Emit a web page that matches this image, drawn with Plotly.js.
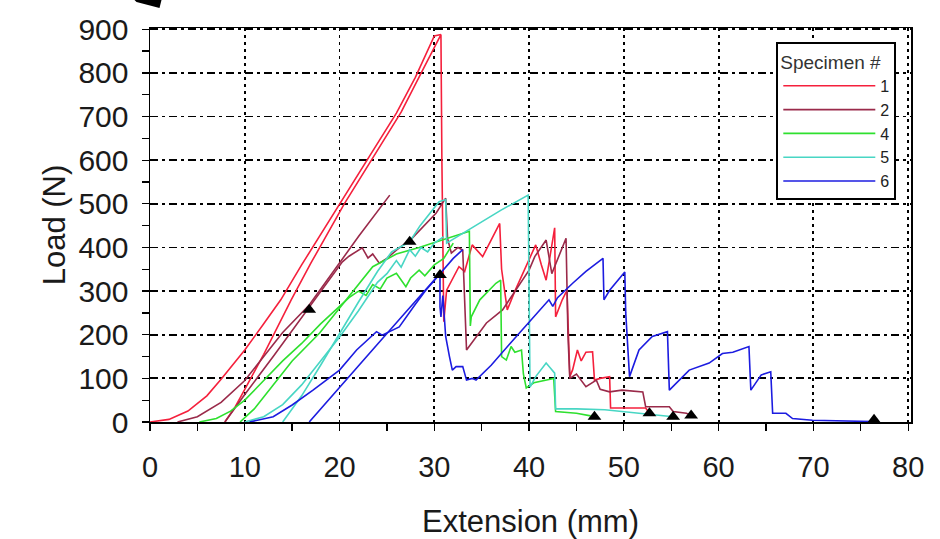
<!DOCTYPE html>
<html>
<head>
<meta charset="utf-8">
<script src="https://cdn.plot.ly/plotly-3.0.1.min.js"></script>
<style>
  html, body { margin: 0; padding: 0; background: #ffffff; }
  #chart { width: 940px; height: 539px; }
</style>
</head>
<body>
<div id="chart"></div>
<script>
// ---- Data (Extension in mm, Load in N) ----
// Each specimen: toe curve, then (after null) the main curve with post-peak behaviour.
const spec1X = [0, 2, 4, 6, 7.5, 10, 12, 13.8, 16, 18, 20, 22, 24, 26, 28, 30.0, 30.7, null,
  7.9, 9, 10, 12, 14.9, 17, 20.5, 22.5, 24.5, 26.5, 28.5, 30.7, 30.8, 30.9, 31.0, 31.3, 32, 32.6, 33.2, 34, 35.1, 36.9,
  37.1, 37.7, 38.5, 39.5, 40.7, 41.3, 41.8, 42.7, 42.8, 43.5, 44, 44.3, 44.6, 45.1, 45.5, 46, 46.7, 46.9,
  47.5, 48.5, 48.6, 50, 52.3, 52.7];
const spec1Y = [0, 6, 25, 60, 98, 165, 225, 280, 360, 430, 500, 568, 638, 708, 790, 885, 888, null,
  0, 35, 75, 155, 280, 365, 500, 570, 640, 710, 795, 888, 600, 400, 230, 302, 330, 356, 345, 406, 379, 455,
  350, 257, 300, 350, 406, 360, 325, 445, 241, 280, 302, 104, 120, 165, 140, 160, 161, 96,
  100, 104, 32, 32, 32, 20];

const spec2X = [2.9, 5, 7.5, 10, 12, 14, 16.8, 20, 22, 25.3, null,
  7.9, 10, 13, 16.8, 20.3, 21, 21.8, 22.4, 23, 23.5, 24.2, 25, 26, 27.7, 30.2, 31.2, 31.4, 31.8, 32.5, 33, 33.4,
  35.5, 37.2, 40, 40.6, 41.8, 42.4, 43.9, 44.1, 44.3, 45, 46, 47.1, 47.5, 48.5, 49.8, 52, 52.3, 54.8, 55.2, 56.6, 57.1];
const spec2Y = [0, 12, 45, 95, 150, 205, 268, 365, 425, 520, null,
  0, 63, 150, 262, 367, 380, 390, 399, 376, 385, 364, 375, 394, 422, 479, 513, 420, 387, 400, 394, 165,
  227, 257, 348, 379, 417, 340, 421, 200, 100, 110, 81, 96, 75, 69, 73, 69, 35, 35, 24, 20, 15];

const spec4X = [5.2, 7, 8.5, 10, 12, 14, 16, 18, 20, 21, 22, 22.8, 23.5, 24.3, 25, 26, 27, 27.5, 28.4, 29, 30, 31, 32, null,
  9.5, 11, 13, 15, 17.9, 20, 23.5, 26, 28.4, 30.5, 32, 33.7, 33.8, 33.9, 34.8, 36.5, 37, 37.1, 37.6, 38.1, 38.5, 39.2,
  39.4, 39.7, 40.5, 41.5, 42.6, 42.8, 45, 46.5];
const spec4Y = [0, 8, 25, 50, 95, 140, 180, 225, 265, 285, 300, 290, 315, 305, 330, 341, 310, 330, 348, 335, 360, 375, 410, null,
  0, 30, 85, 140, 204, 262, 356, 385, 400, 415, 425, 437, 220, 241, 280, 318, 325, 150, 142, 173, 160, 165,
  110, 78, 90, 95, 100, 24, 20, 14];

const spec5X = [10, 12, 14, 16, 18, 20, 22, 24, 25, 26, 26.5, 27.4, 28, 28.6, 29.3, 30, 31, null,
  14, 16, 18, 20, 22, 24, 25.5, 27.4, 28.5, 30.5, 31.2, 31.3, 33, 35, 37, 39.9, 40.1, 40.7, 41.8, 42.2, 42.7,
  42.8, 45, 48, 52, 55.2];
const spec5Y = [0, 12, 40, 85, 140, 195, 255, 320, 340, 370, 355, 395, 380, 400, 390, 410, 425, null,
  0, 60, 130, 204, 275, 345, 390, 413, 450, 505, 510, 410, 432, 458, 485, 520, 80, 104, 135, 125, 112,
  30, 30, 28, 20, 12];

const spec6X = [10.5, 13, 15, 17.2, 20, 21.8, 23.9, 24.5, 26.3, 27, 28, 29.1, 30, 31.2, 32, 33, null,
  16.8, 20, 24, 27, 30.6, 30.6, 30.7, 30.9, 31.2, 31.6, 31.9, 32.3, 33, 33.4, 34, 34.4, 36, 38, 40, 42.1, 42.5,
  43, 44.6, 46, 47.8, 47.9, 48.5, 50.1, 50.2, 50.6, 51.6, 53, 54.6, 54.8, 56.9, 59, 60.4, 61.5, 63.2, 63.4,
  64.5, 65.5, 65.7, 67.1, 67.8, 69.9, 76.2];
const spec6Y = [0, 12, 39, 73, 119, 165, 207, 199, 218, 240, 270, 302, 325, 356, 375, 395, null,
  0, 80, 178, 252, 340, 264, 241, 290, 196, 150, 119, 127, 127, 96, 100, 96, 130, 180, 230, 280, 265,
  285, 318, 345, 375, 280, 302, 344, 250, 104, 165, 196, 207, 73, 119, 135, 157, 160, 173, 73,
  108, 115, 20, 20, 8, 4, 1];

// Failure / marker points (black triangles)
const markX = [16.8, 27.4, 30.6, 46.9, 52.7, 55.2, 57.1, 76.4];
const markY = [257, 413, 337, 12, 20, 12, 15, 5];

const specimenNames = ['1', '2', '4', '5', '6'];
const specimenColors = ['#f5203c', '#9a2a4a', '#2ee02e', '#48d6c4', '#1c1ce0'];

// x/y tick labels
const xTicks = [0, 10, 20, 30, 40, 50, 60, 70, 80];
const yTicks = [0, 100, 200, 300, 400, 500, 600, 700, 800, 900];

const seriesX = [spec1X, spec2X, spec4X, spec5X, spec6X];
const seriesY = [spec1Y, spec2Y, spec4Y, spec5Y, spec6Y];

const traces = seriesX.map((xs, i) => ({
  type: 'scatter', mode: 'lines', name: specimenNames[i],
  x: xs, y: seriesY[i], connectgaps: false,
  line: { color: specimenColors[i], width: 1.6 },
  hoverinfo: 'skip'
}));
traces.push({
  type: 'scatter', mode: 'markers', x: markX, y: markY, showlegend: false,
  marker: { symbol: 'triangle-up', size: 12, color: '#000000' }, hoverinfo: 'skip'
});

const FONT = 'Liberation Sans, Arial, sans-serif';
const TXT = '#1a1a1a';
const layout = {
  width: 940, height: 539,
  margin: { l: 150, r: 29, t: 28, b: 117 },
  paper_bgcolor: '#ffffff', plot_bgcolor: '#ffffff',
  font: { family: FONT, color: TXT },
  showlegend: true,
  xaxis: {
    range: [0, 80.3], tickvals: xTicks, ticktext: xTicks.map(String),
    showline: true, linecolor: '#000', linewidth: 1.5, mirror: true,
    ticks: 'outside', ticklen: 7, tickwidth: 1.3, tickcolor: '#000',
    minor: { dtick: 5, tick0: 0, ticks: 'outside', ticklen: 7, tickwidth: 1.3, tickcolor: '#000', showgrid: false },
    showgrid: true, gridcolor: '#000', gridwidth: 1.8, griddash: '3px,4px',
    zeroline: false, tickfont: { size: 29, family: FONT, color: TXT },
    ticklabelstandoff: 12,
    title: { text: 'Extension (mm)', font: { size: 31, family: FONT, color: TXT }, standoff: 30 }
  },
  yaxis: {
    range: [0, 903], tickvals: yTicks, ticktext: yTicks.map(String),
    showline: true, linecolor: '#000', linewidth: 1.5, mirror: true,
    ticks: 'outside', ticklen: 7, tickwidth: 1.3, tickcolor: '#000',
    minor: { dtick: 50, tick0: 0, ticks: 'outside', ticklen: 7, tickwidth: 1.3, tickcolor: '#000', showgrid: false },
    showgrid: true, gridcolor: '#000', gridwidth: 1.8, griddash: '8px,4px,3px,4px',
    zeroline: false, tickfont: { size: 30, family: FONT, color: TXT },
    ticklabelstandoff: 7,
    title: { text: 'Load (N)', font: { size: 31, family: FONT, color: TXT }, standoff: 3 }
  },
  legend: {
    x: 0.823, y: 0.964, xanchor: 'left', yanchor: 'top',
    bgcolor: '#ffffff', bordercolor: '#000', borderwidth: 2,
    font: { size: 16, family: FONT, color: '#222' },
    title: { text: 'Specimen #', font: { size: 19, family: FONT, color: '#333' } },
    itemwidth: 92
  },
  shapes: [{
    type: 'path', xref: 'paper', yref: 'paper',
    path: 'M -0.0204 1.0711 L 0.0151 1.0711 L 0.0125 1.0508 L -0.0177 1.066 Z',
    fillcolor: '#000', line: { width: 0 }
  }]
};

Plotly.newPlot('chart', traces, layout, { staticPlot: true, displayModeBar: false });
</script>
</body>
</html>
